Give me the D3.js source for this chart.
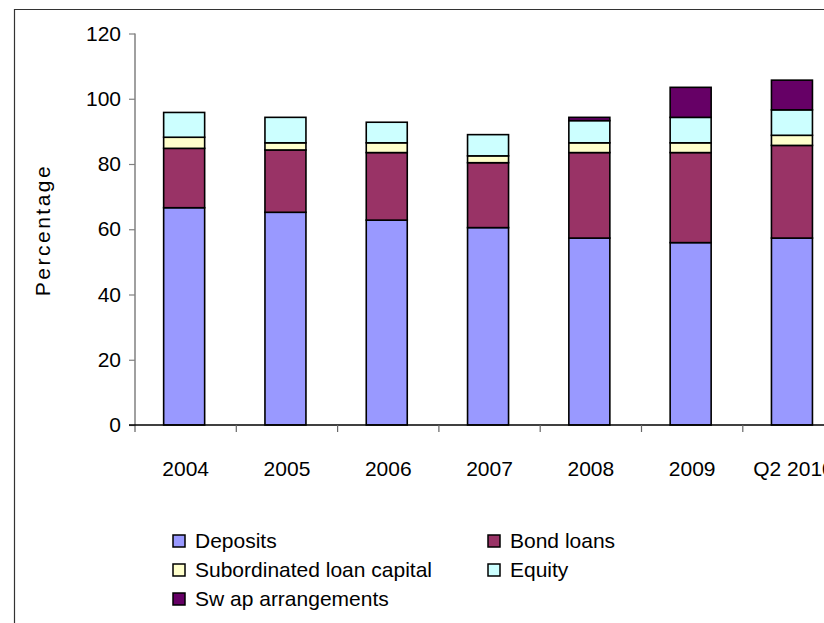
<!DOCTYPE html>
<html>
<head>
<meta charset="utf-8">
<script src="https://cdn.jsdelivr.net/npm/d3@7"></script>
<style>
  body { margin: 0; background: #fff; }
  svg { display: block; font-family: "Liberation Sans", Arial, sans-serif; }
</style>
</head>
<body>
<svg id="chart" width="824" height="623"></svg>
<script>
// values (percent)
const categories = ["2004", "2005", "2006", "2007", "2008", "2009", "Q2 2010"];
const deposits = [66.6, 65.2, 62.8, 60.5, 57.3, 55.9, 57.3];
const bondLoans = [18.2, 19.1, 20.7, 19.9, 26.2, 27.6, 28.4];
const subordinated = [3.4, 2.2, 3.0, 2.1, 3.0, 3.0, 3.1];
const equity = [7.6, 7.8, 6.3, 6.5, 6.8, 7.8, 7.8];
const swaps = [0, 0, 0, 0, 1.0, 9.2, 9.1];
const seriesNames = ["Deposits", "Bond loans", "Subordinated loan capital", "Equity", "Sw ap arrangements"];
const yTicks = [0, 20, 40, 60, 80, 100, 120];

const colors = ["#9999ff", "#993366", "#ffffcc", "#ccffff", "#660066"];
const seriesValues = [deposits, bondLoans, subordinated, equity, swaps];

const rows = categories.map((c, i) => {
    const r = {cat: c};
    seriesNames.forEach((s, k) => r[s] = seriesValues[k][i]);
    return r;
});

const svg = d3.select("#chart");

// outer frame (only top and left edges are visible)
svg.append("path")
    .attr("d", "M14.5,623 V9.5 H824")
    .attr("fill", "none")
    .attr("stroke", "#333")
    .attr("stroke-width", 1.2);

const x = d3.scaleBand()
    .domain(categories)
    .range([135, 135 + 7 * 101.3])
    .padding(0);

const y = d3.scaleLinear()
    .domain([0, 120])
    .range([425, 33.5]);

const barW = 41;

const stack = d3.stack().keys(seriesNames);
const layers = stack(rows);

// Bars
svg.append("g")
    .selectAll("g")
    .data(layers)
    .join("g")
    .attr("fill", (d, i) => colors[i])
    .selectAll("rect")
    .data(d => d.filter(p => p[1] - p[0] > 0))
    .join("rect")
    .attr("x", d => x(d.data.cat) + x.bandwidth() / 2 - barW / 2 - 1.5)
    .attr("y", d => y(d[1]))
    .attr("width", barW)
    .attr("height", d => y(d[0]) - y(d[1]))
    .attr("stroke", "#000")
    .attr("stroke-width", 1.6);

// Y axis
const yAxis = svg.append("g")
    .attr("transform", "translate(135,0)")
    .call(d3.axisLeft(y).tickValues(yTicks).tickSize(6).tickPadding(8))
    .call(g => g.select(".domain").remove());
yAxis.selectAll(".tick line").attr("stroke", "#808080").attr("stroke-width", 1.2);
yAxis.selectAll(".tick text")
    .attr("font-size", "21px")
    .attr("fill", "#000")
    .attr("font-family", "Liberation Sans, Arial, sans-serif");

svg.append("line")
    .attr("x1", 135).attr("x2", 135)
    .attr("y1", y(120)).attr("y2", 432)
    .attr("stroke", "#808080").attr("stroke-width", 1.5);

// X axis
svg.append("line")
    .attr("x1", 129).attr("x2", 824)
    .attr("y1", y(0)).attr("y2", y(0))
    .attr("stroke", "#000").attr("stroke-width", 1.3);

const xAxis = svg.append("g")
    .attr("transform", `translate(0,${y(0)})`)
    .call(d3.axisBottom(x).tickSize(0).tickPadding(36))
    .call(g => g.select(".domain").remove());
xAxis.selectAll(".tick text")
    .attr("font-size", "21px")
    .attr("fill", "#000")
    .attr("font-family", "Liberation Sans, Arial, sans-serif");

svg.append("g")
    .selectAll("line")
    .data(categories.slice(1))
    .join("line")
    .attr("x1", d => x(d)).attr("x2", d => x(d))
    .attr("y1", y(0)).attr("y2", y(0) + 7)
    .attr("stroke", "#666").attr("stroke-width", 1.2);

// Y axis label
svg.append("text")
    .attr("transform", "rotate(-90)")
    .attr("x", -230)
    .attr("y", 50)
    .attr("text-anchor", "middle")
    .attr("font-size", "21px")
    .attr("letter-spacing", "2.5px")
    .text("Percentage");

// Legend
const legendPos = [[173, 541], [488, 541], [173, 570], [488, 570], [173, 599]];
const legend = svg.append("g")
    .selectAll("g")
    .data(seriesNames)
    .join("g")
    .attr("transform", (d, i) => `translate(${legendPos[i][0]},${legendPos[i][1]})`);

legend.append("rect")
    .attr("x", 0).attr("y", -6)
    .attr("width", 12).attr("height", 12)
    .attr("fill", (d, i) => colors[i])
    .attr("stroke", "#000")
    .attr("stroke-width", 1.5);

legend.append("text")
    .attr("x", 22)
    .attr("y", 7)
    .attr("font-size", "21px")
    .text(d => d);
</script>
</body>
</html>
